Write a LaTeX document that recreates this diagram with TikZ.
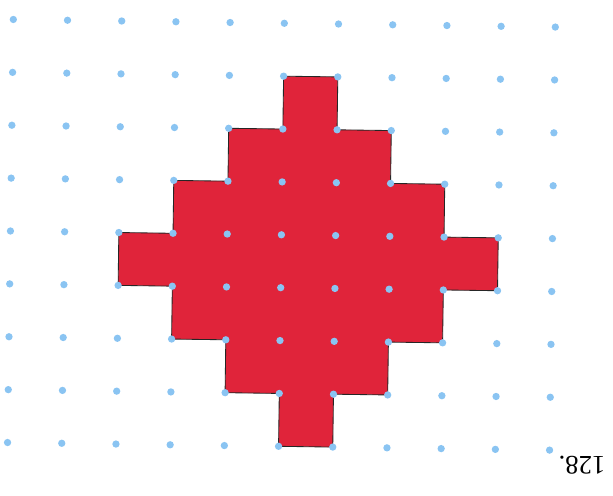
\documentclass[tikz,border=0pt]{standalone}
\usepackage{fontspec}
\setmainfont{Liberation Serif}
\usetikzlibrary{positioning}
\definecolor{shapered}{RGB}{224,36,58}
\definecolor{dotblue}{RGB}{138,196,242}
\tikzset{
  dot/.style={fill=dotblue},
  figure/.style={fill=shapered, draw=black!85, line width=0.6pt, line join=miter}
}

\begin{document}
\begin{tikzpicture}
% page frame, 613 x 495 px at 0.025cm per px
\useasboundingbox (0,0) rectangle (15.325,12.375);

% scanned grid is slightly tilted
\begin{scope}[shift={(0.333,11.888)}, x={(1.355cm,-0.019cm)}, y={(-0.018cm,-1.322cm)}]

% Shape
\draw[figure] (5,1) -- (6,1) -- (6,2) -- (7,2) -- (7,3) -- (8,3) -- (8,4) -- (9,4)
  -- (9,5) -- (8,5) -- (8,6) -- (7,6) -- (7,7) -- (6,7) -- (6,8) -- (5,8)
  -- (5,7) -- (4,7) -- (4,6) -- (3,6) -- (3,5) -- (2,5) -- (2,4) -- (3,4)
  -- (3,3) -- (4,3) -- (4,2) -- (5,2) -- cycle;

% Dots
\foreach \i in {0,...,10}
  \foreach \j in {0,...,8}
    \fill[dot] (\i,\j) circle (2.6pt);

\end{scope}

% Number, printed upside down
\node[rotate=180, font=\fontsize{19}{22}\selectfont, inner sep=0pt] (num) at (14.55,0.75) {128.};

\end{tikzpicture}
\end{document}
